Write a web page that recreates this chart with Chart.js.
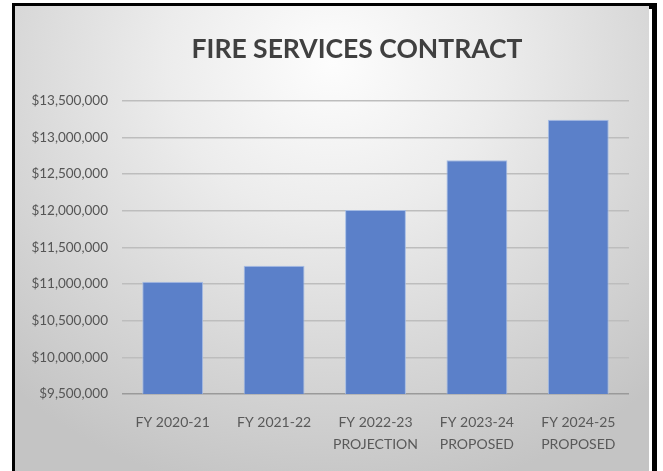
<!DOCTYPE html>
<html>
<head>
<meta charset="utf-8">
<script src="https://cdn.jsdelivr.net/npm/chart.js@4/dist/chart.umd.min.js"></script>
<style>
  html, body { margin: 0; padding: 0; background: #fff; width: 663px; height: 471px; overflow: hidden; }
  .frame { position: absolute; left: 12px; top: 3px; width: 645px; height: 480px; background: #000; }
  .gap { position: absolute; left: 15px; top: 9px; width: 637px; height: 470px; background: #fff; }
  .chartBox {
    position: absolute; left: 15px; top: 6px; width: 634px; height: 465px;
    background: radial-gradient(ellipse 75% 95% at 50% 12%, #fdfdfd 0%, #ececec 35%, #d6d6d6 70%, #c4c4c4 100%);
  }
</style>
</head>
<body>
<div class="frame"></div>
<div class="gap"></div>
<div class="chartBox"><canvas id="chart" width="634" height="465"></canvas></div>
<script>
const titleText = 'FIRE SERVICES CONTRACT';
const categories = [
    ['FY 2020-21'],
    ['FY 2021-22'],
    ['FY 2022-23', 'PROJECTION'],
    ['FY 2023-24', 'PROPOSED'],
    ['FY 2024-25', 'PROPOSED']
];
const contractValues = [11030000, 11250000, 12010000, 12690000, 13240000];
const yMin = 9500000;
const yMax = 13500000;
const yStep = 500000;

const fmtDollars = (v) => '$' + Number(v).toLocaleString('en-US');

// the original title sits a bit right of the canvas centre
const shiftTitle = {
    id: 'shiftTitle',
    afterLayout: (chart) => {
        if (chart.titleBlock) {
            chart.titleBlock.left += 70;
        }
    }
};

const ctx = document.getElementById('chart').getContext('2d');
new Chart(ctx, {
    type: 'bar',
    data: {
        labels: categories,
        datasets: [{
            label: titleText,
            data: contractValues,
            backgroundColor: 'rgb(91, 128, 201)',
            borderColor: 'rgba(160, 185, 230, 0.9)',
            borderWidth: 1,
            barPercentage: 0.6,
            categoryPercentage: 1.0
        }]
    },
    plugins: [shiftTitle],
    options: {
        responsive: false,
        animation: false,
        layout: { padding: { top: 10, right: 20, bottom: 0, left: 0 } },
        plugins: {
            legend: { display: false },
            tooltip: { enabled: false },
            title: {
                display: true,
                text: titleText,
                color: '#404040',
                font: { family: 'Lato', size: 26.5, weight: 'bold', lineHeight: 1.2 },
                padding: { top: 18, bottom: 35 }
            }
        },
        scales: {
            x: {
                grid: { display: false },
                border: { display: false },
                ticks: {
                    color: '#595959',
                    font: { family: 'Lato', size: 14, lineHeight: 1.6 },
                    padding: 9,
                    maxRotation: 0
                },
                afterFit: (s) => { s.height = 77; }
            },
            y: {
                min: yMin,
                max: yMax,
                border: { display: false },
                grid: {
                    color: (c) => c.tick && c.tick.value === yMin ? '#9a9a9a' : '#bdbdbd',
                    lineWidth: 1.5,
                    drawTicks: false
                },
                ticks: {
                    stepSize: yStep,
                    color: '#555555',
                    font: { family: 'Lato', size: 13.5 },
                    padding: 14,
                    callback: fmtDollars
                },
                afterFit: (s) => { s.width = 107; }
            }
        }
    }
});
</script>
</body>
</html>
